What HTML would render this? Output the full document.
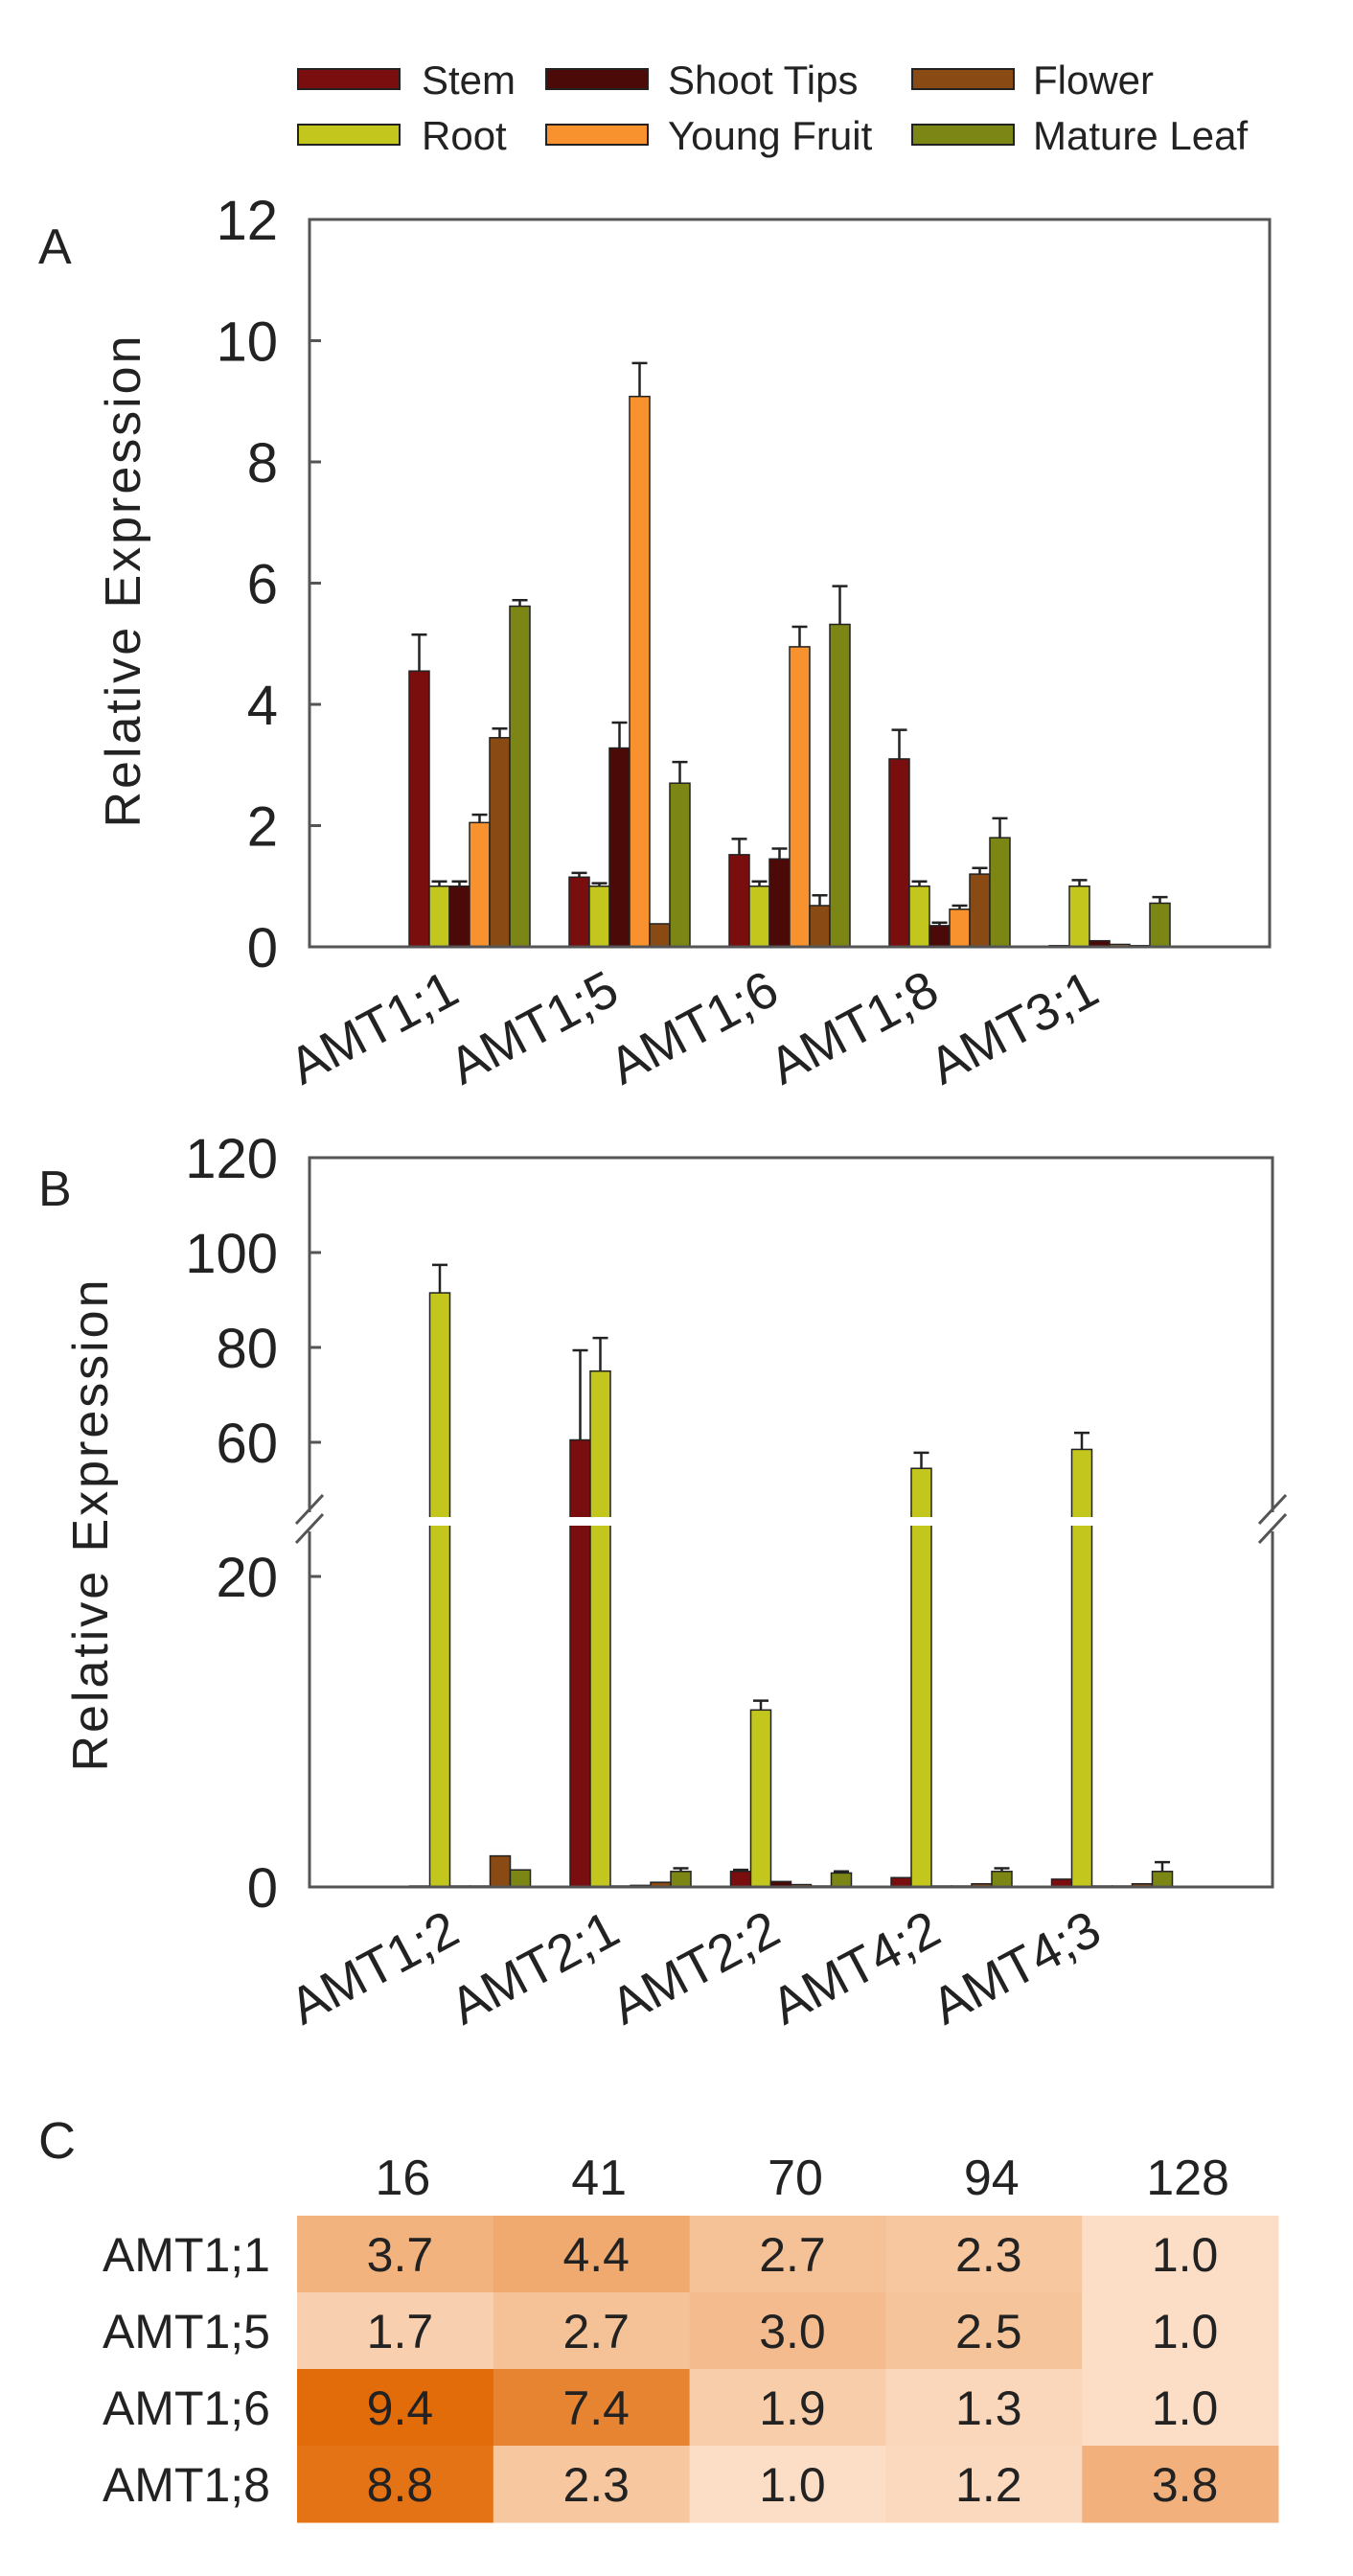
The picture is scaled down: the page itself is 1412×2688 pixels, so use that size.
<!DOCTYPE html>
<html><head><meta charset="utf-8">
<style>
html,body{margin:0;padding:0;background:#fff;}
svg{display:block;}
text{font-family:"Liberation Sans",sans-serif;fill:#222;}
.hm{font-family:"Liberation Sans Narrow","Liberation Sans",sans-serif;}
</style></head>
<body>
<svg id="fig" width="1412" height="2688" viewBox="0 0 1412 2688" xmlns="http://www.w3.org/2000/svg">
  <g id="legend"></g>
  <text x="40" y="275" font-size="52">A</text>
  <g id="chartA"></g>
  <text x="40" y="1258" font-size="52">B</text>
  <g id="chartB"></g>
  <text x="40" y="2252" font-size="54" class="hm">C</text>
  <g id="heat"></g>
</svg>
<script>
const seriesNames = ["Stem","Root","Shoot Tips","Young Fruit","Flower","Mature Leaf"];
const seriesColors = ["#7a0d0d","#c3c61c","#4b0a08","#f7922e","#8a4a14","#7c8615"];
const catsA = ["AMT1;1","AMT1;5","AMT1;6","AMT1;8","AMT3;1"];
const stemA = [4.55,1.15,1.52,3.1,0.02];
const rootA = [1.0,1.0,1.0,1.0,1.0];
const shootA = [1.0,3.28,1.45,0.35,0.1];
const fruitA = [2.05,9.08,4.95,0.62,0.04];
const flowerA = [3.45,0.38,0.68,1.2,0.02];
const leafA = [5.62,2.7,5.32,1.8,0.72];
const stemAErr = [5.15,1.22,1.78,3.58,0.02];
const rootAErr = [1.08,1.05,1.08,1.08,1.1];
const shootAErr = [1.08,3.7,1.62,0.4,0.1];
const fruitAErr = [2.18,9.63,5.28,0.68,0.04];
const flowerAErr = [3.6,0.38,0.85,1.3,0.02];
const leafAErr = [5.72,3.05,5.95,2.12,0.82];
const ticksA = [0,2,4,6,8,10,12];

const catsB = ["AMT1;2","AMT2;1","AMT2;2","AMT4;2","AMT4;3"];
const stemB = [0.05,60.5,1.0,0.6,0.5];
const rootB = [91.5,75,11.4,54.5,58.5];
const shootB = [0,0,0.35,0,0];
const fruitB = [0,0.1,0.15,0,0];
const flowerB = [2.0,0.3,0.05,0.2,0.2];
const leafB = [1.1,1.0,0.9,1.0,1.0];
const stemBErr = [0.05,79.4,1.1,0.6,0.5];
const rootBErr = [97.4,82,12.0,57.8,62];
const shootBErr = [0,0,0.35,0,0];
const fruitBErr = [0,0.1,0.15,0,0];
const flowerBErr = [2.0,0.3,0.05,0.2,0.2];
const leafBErr = [1.1,1.2,1.0,1.2,1.6];
const ticksB = [0,20,60,80,100,120];

const heatCols = ["16","41","70","94","128"];
const heatRows = ["AMT1;1","AMT1;5","AMT1;6","AMT1;8"];
const heatVals = [[3.7,4.4,2.7,2.3,1.0],[1.7,2.7,3.0,2.5,1.0],[9.4,7.4,1.9,1.3,1.0],[8.8,2.3,1.0,1.2,3.8]];

const NS="http://www.w3.org/2000/svg";
function mk(tag, parent, attrs){const e=document.createElementNS(NS,tag);for(const k in attrs)e.setAttribute(k,attrs[k]);parent.appendChild(e);return e;}

// legend
const lg=document.getElementById('legend');
const legPos=[[311,72,440,98],[311,130,440,156],[570,72,697,98],[570,130,697,156],[952,72,1078,98],[952,130,1078,156]];
[0,1,2,3,4,5].forEach((s,i)=>{
  const p=legPos[i];
  const r=mk('rect',lg,{x:p[0],y:p[1],width:106,height:21,fill:seriesColors[s],stroke:"#222","stroke-width":2});
  
  
  const t=mk('text',lg,{x:p[2],y:p[3],"font-size":42});
  t.textContent=seriesNames[s];
  
  
});

function drawBars(g, cats, vals, errs, yf, x0, x1, base, labelY, prefix){
  const step=(x1-x0)/6, bw=21;
  cats.forEach((c,ci)=>{
    const cx=x0+step*(ci+1);
    vals.forEach((arr,si)=>{
      const v=arr[ci], e=errs[si][ci];
      const bx=cx-63+si*bw;
      const yt=yf(v);
      const r=mk('rect',g,{x:bx,y:Math.min(yt,base-1),width:bw,height:Math.max(base-yt,1),fill:seriesColors[si],stroke:"#222","stroke-width":1.5});
      
      
      if(e>v+0.01){
        const ye=yf(e);
        const l=mk('path',g,{d:`M${bx+bw/2},${yt}V${ye}M${bx+bw/2-8},${ye}H${bx+bw/2+8}`,stroke:"#222","stroke-width":2.5,fill:"none"});
        
        
      }
    });
    const lx=cx-8;
    const t=mk('text',g,{x:lx,y:labelY,"font-size":54,"text-anchor":"end",transform:`rotate(-28 ${lx} ${labelY})`});
    t.textContent=c;
    
    
  });
}

// Chart A
const gA=document.getElementById('chartA');
const AL=323,AR=1325,AT=229,AB=988;
const yA=v=>AB-(v/12)*(AB-AT);
drawBars(gA,catsA,[stemA,rootA,shootA,fruitA,flowerA,leafA],[stemAErr,rootAErr,shootAErr,fruitAErr,flowerAErr,leafAErr],yA,AL,AR,AB,1044,'a');
const frA=mk('rect',gA,{x:AL,y:AT,width:AR-AL,height:AB-AT,fill:"none",stroke:"#555","stroke-width":3});


ticksA.forEach(v=>{
  const y=yA(v);
  mk('path',gA,{d:`M${AL},${y}H${AL+12}`,stroke:"#555","stroke-width":3});
  const t=mk('text',gA,{x:290,y:y+21,"font-size":58,"text-anchor":"end"});
  t.textContent=v;
  
  
});
const ytA=mk('text',gA,{x:146,y:607,"font-size":52,"text-anchor":"middle",transform:"rotate(-90 146 607)",textLength:513});
ytA.textContent="Relative Expression";



// Chart B (broken axis)
const gB=document.getElementById('chartB');
const BL=323,BR=1328,BT=1208,BB=1969;
const yB=v=> v<=20 ? BB-v*(BB-1645)/20 : 1505-(v-60)*4.95;
drawBars(gB,catsB,[stemB,rootB,shootB,fruitB,flowerB,leafB],[stemBErr,rootBErr,shootBErr,fruitBErr,flowerBErr,leafBErr],yB,BL,BR,BB,2025,'b');
const gap=mk('rect',gB,{x:BL+4,y:1583,width:BR-BL-8,height:9,fill:"#fff"});


const frB=mk('path',gB,{d:`M${BL},1578V${BT}H${BR}V1578M${BL},1598V${BB}H${BR}V1598`,fill:"none",stroke:"#555","stroke-width":3});


[BL,BR].forEach(x=>{
  const s=mk('path',gB,{d:`M${x-14},1590L${x+14},1560M${x-14},1610L${x+14},1580`,stroke:"#555","stroke-width":3});
  
  
});
ticksB.forEach(v=>{
  const y=yB(v);
  mk('path',gB,{d:`M${BL},${y}H${BL+12}`,stroke:"#555","stroke-width":3});
  const t=mk('text',gB,{x:290,y:y+21,"font-size":58,"text-anchor":"end"});
  t.textContent=v;
  
  
});
const ytB=mk('text',gB,{x:112,y:1592,"font-size":52,"text-anchor":"middle",transform:"rotate(-90 112 1592)",textLength:513});
ytB.textContent="Relative Expression";



// Heatmap
const gH=document.getElementById('heat');
const HX=310,HY=2312,CW=204.8,CH=80;
const c0=[252,222,198],c1=[226,108,10];
function col(v){const t=Math.max(0,Math.min(1,(v-1)/8.4));const t2=Math.pow(t,0.85);return `rgb(${c0.map((a,i)=>Math.round(a+(c1[i]-a)*t2)).join(',')})`;}
heatCols.forEach((c,ci)=>{
  const t=mk('text',gH,{x:HX+CW*(ci+0.5)+8,y:2290,"font-size":52,"text-anchor":"middle",class:"hm"});
  t.textContent=c;
  
  
});
heatRows.forEach((r,ri)=>{
  const t=mk('text',gH,{x:282,y:HY+CH*ri+58,"font-size":50,"text-anchor":"end",class:"hm"});
  t.textContent=r;
  
  
  heatVals[ri].forEach((v,ci)=>{
    const cell=mk('rect',gH,{x:HX+CW*ci,y:HY+CH*ri,width:CW+0.5,height:CH+0.5,fill:col(v)});
    
    
    const tv=mk('text',gH,{x:HX+CW*(ci+0.5)+5,y:HY+CH*ri+58,"font-size":50,"text-anchor":"middle",class:"hm"});
    tv.textContent=v.toFixed(1);
    
    
  });
});
</script>
</body></html>
